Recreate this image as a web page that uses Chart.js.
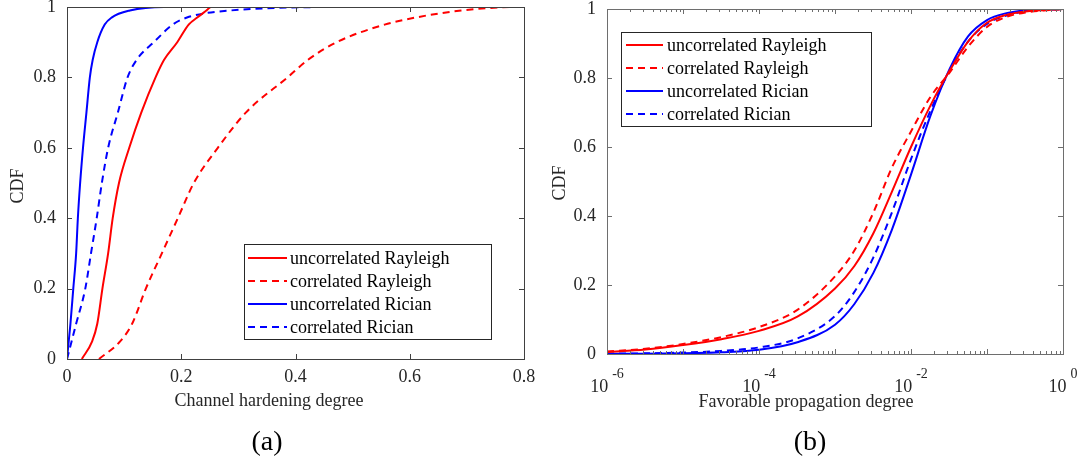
<!DOCTYPE html>
<html><head><meta charset="utf-8">
<script src="https://cdn.jsdelivr.net/npm/chart.js@4.4.1/dist/chart.umd.min.js"></script>
<style>
html,body{margin:0;padding:0;background:#fff;}
#wrap{position:relative;width:1082px;height:463px;overflow:hidden;background:#fff;}
canvas{position:absolute;top:0;}
#ca{left:0;} #cb{left:541px;}
</style></head><body>
<div id="wrap"><canvas id="ca" width="541" height="463"></canvas><canvas id="cb" width="541" height="463"></canvas></div>
<script>
// ---------- data ----------
const seriesNames = ['uncorrelated Rayleigh', 'correlated Rayleigh', 'uncorrelated Rician', 'correlated Rician'];
const yTitle = 'CDF';
const yTicks = [0, 0.2, 0.4, 0.6, 0.8, 1];

// panel (a): channel hardening degree, x value reached at each CDF level
const xTitleA = 'Channel hardening degree';
const panelLabelA = '(a)';
const xTicksA = [0, 0.2, 0.4, 0.6, 0.8];
const cdfLevelsA       = [0,     0.05,  0.1,   0.2,   0.3,   0.4,   0.5,   0.6,   0.7,   0.8,   0.85,  0.9,   0.95,  0.97,  0.99,  1,     1];
const hardUncorrRayl   = [0.026, 0.044, 0.053, 0.062, 0.072, 0.080, 0.091, 0.109, 0.130, 0.155, 0.170, 0.193, 0.213, 0.228, 0.244, 0.252, 0.8];
const hardCorrRayl     = [0.056, 0.093, 0.114, 0.138, 0.166, 0.194, 0.222, 0.264, 0.313, 0.386, 0.422, 0.472, 0.556, 0.610, 0.690, 0.790, 0.8];
const hardUncorrRician = [0.000, 0.003, 0.006, 0.011, 0.016, 0.019, 0.023, 0.028, 0.034, 0.040, 0.045, 0.053, 0.066, 0.078, 0.110, 0.170, 0.8];
const hardCorrRician   = [0.000, 0.008, 0.016, 0.032, 0.042, 0.052, 0.061, 0.072, 0.089, 0.106, 0.122, 0.152, 0.185, 0.210, 0.285, 0.500, 0.8];

// panel (b): favorable propagation degree (log x)
const xTitleB = 'Favorable propagation degree';
const panelLabelB = '(b)';
const xTickExpB = [-6, -4, -2, 0];
const favX           = [1e-6, 3.2e-6, 1e-5, 3.2e-5, 1e-4, 3.2e-4, 1e-3, 1.8e-3, 3.2e-3, 5.6e-3, 1e-2, 1.8e-2, 3.2e-2, 5.6e-2, 0.1, 0.18, 0.32, 1];
const favUncorrRayl   = [0.006, 0.013, 0.026, 0.043, 0.067, 0.108, 0.190, 0.255, 0.350, 0.470, 0.600, 0.720, 0.820, 0.905, 0.960, 0.983, 0.993, 1];
const favCorrRayl     = [0.007, 0.015, 0.029, 0.049, 0.078, 0.128, 0.225, 0.300, 0.410, 0.540, 0.645, 0.745, 0.815, 0.890, 0.948, 0.977, 0.990, 1];
const favUncorrRician = [0.001, 0.001, 0.002, 0.005, 0.012, 0.034, 0.085, 0.145, 0.235, 0.360, 0.520, 0.690, 0.825, 0.920, 0.968, 0.988, 0.996, 1];
const favCorrRician   = [0.001, 0.002, 0.004, 0.009, 0.019, 0.045, 0.110, 0.180, 0.280, 0.410, 0.565, 0.705, 0.820, 0.905, 0.957, 0.981, 0.993, 1];

// ---------- styling ----------
const FONT = '"Liberation Serif", "Times New Roman", serif';
const RED = '#ff0000', BLUE = '#0000ff';
const DASH = [7, 5];
Chart.defaults.font.family = FONT;
Chart.defaults.font.size = 18;
Chart.defaults.color = '#262626';

function mkSets(xsArr, ysArr) {
  const styles = [[RED, []], [RED, DASH], [BLUE, []], [BLUE, DASH]];
  return ysArr.map((ys, i) => ({
    label: seriesNames[i],
    data: (Array.isArray(xsArr[0]) ? xsArr[i] : xsArr).map((x, j) => ({x: x, y: ys[j]})),
    borderColor: styles[i][0], borderDash: styles[i][1], borderWidth: 2,
    pointRadius: 0, fill: false, cubicInterpolationMode: 'monotone'
  }));
}

const fmt = v => String(Math.round(v * 10) / 10);

const framePlugin = {
  id: 'frame',
  afterDatasetsDraw(chart, args, o) {
    const ctx = chart.ctx, a = chart.chartArea, xs = chart.scales.x, ys = chart.scales.y;
    ctx.save();
    ctx.strokeStyle = o.axisColor; ctx.lineWidth = 1;
    ctx.beginPath();
    ys.ticks.forEach(t => {
      const y = Math.round(ys.getPixelForValue(t.value)) + 0.5;
      ctx.moveTo(a.left, y); ctx.lineTo(a.left + o.tickLen, y);
      ctx.moveTo(a.right, y); ctx.lineTo(a.right - o.tickLen, y);
    });
    let xt = [];
    if (o.logMinor) {
      for (let d = -6; d < 0; d++) for (let m = 1; m <= 9; m++) xt.push({v: m * Math.pow(10, d), major: m === 1});
      xt.push({v: 1, major: true});
    } else {
      xt = xs.ticks.map(t => ({v: t.value, major: true}));
    }
    xt.forEach(t => {
      const x = Math.round(xs.getPixelForValue(t.v)) + 0.5;
      const L = t.major ? o.tickLen : o.minorLen;
      ctx.moveTo(x, a.bottom); ctx.lineTo(x, a.bottom - L);
      ctx.moveTo(x, a.top); ctx.lineTo(x, a.top + L);
    });
    ctx.stroke();
    ctx.strokeRect(Math.round(a.left) + 0.5, Math.round(a.top) + 0.5, Math.round(a.width), Math.round(a.height));
    ctx.restore();
  },
  afterDraw(chart, args, o) {
    const ctx = chart.ctx, xs = chart.scales.x;
    ctx.save();
    // custom log tick labels
    if (o.logMinor) {
      xTickExpB.forEach(e => {
        const x = xs.getPixelForValue(Math.pow(10, e));
        ctx.font = '18px ' + FONT;
        const w1 = ctx.measureText('10').width;
        ctx.font = '14px ' + FONT;
        const es = e === 0 ? '0' : '-' + Math.abs(e);
        const w2 = ctx.measureText(es).width;
        const gap = 4;
        const x0 = x - (w1 + gap + w2) / 2;
        ctx.fillStyle = '#262626'; ctx.textAlign = 'left'; ctx.textBaseline = 'alphabetic';
        ctx.font = '18px ' + FONT; ctx.fillText('10', x0, o.xLabelBase);
        ctx.font = '14px ' + FONT; ctx.fillText(es, x0 + w1 + gap, o.xLabelBase - 14);
      });
    }
    // titles
    ctx.fillStyle = '#262626';
    ctx.font = '18px ' + FONT;
    ctx.textAlign = 'center'; ctx.textBaseline = 'alphabetic';
    ctx.fillText(o.xTitle, o.xTitleX, o.xTitleY);
    ctx.save();
    ctx.translate(o.yTitleX, o.yTitleY); ctx.rotate(-Math.PI / 2);
    ctx.textBaseline = 'middle';
    ctx.fillText(yTitle, 0, 0);
    ctx.restore();
    ctx.fillStyle = '#000';
    ctx.font = '28px ' + FONT;
    ctx.fillText(o.panelLabel, o.panelX, o.panelY);
    // legend
    const L = o.legend;
    ctx.fillStyle = '#fff';
    ctx.fillRect(L.x, L.y, L.w, L.h);
    ctx.strokeStyle = '#262626'; ctx.lineWidth = 1;
    ctx.strokeRect(L.x + 0.5, L.y + 0.5, L.w, L.h);
    chart.data.datasets.forEach((ds, i) => {
      const y = L.row0 + i * L.rowH;
      ctx.strokeStyle = ds.borderColor; ctx.lineWidth = 2; ctx.setLineDash(ds.borderDash);
      ctx.beginPath(); ctx.moveTo(L.lx1, y); ctx.lineTo(L.lx2, y); ctx.stroke();
      ctx.setLineDash([]);
      ctx.fillStyle = '#000'; ctx.font = '18px ' + FONT;
      ctx.textAlign = 'left'; ctx.textBaseline = 'middle';
      ctx.fillText(ds.label, L.tx, y + 1);
    });
    ctx.restore();
  }
};

function yScale(width) {
  return {
    type: 'linear', min: 0, max: 1,
    grid: {display: false, drawTicks: false}, border: {display: false},
    ticks: {padding: 11, color: '#262626', font: {size: 18}, callback: v => fmt(v)},
    afterBuildTicks: s => { s.ticks = yTicks.map(v => ({value: v})); },
    afterFit: s => { s.width = width; s.paddingTop = 0; s.paddingBottom = 0; }
  };
}

// ---------- chart (a) ----------
new Chart(document.getElementById('ca'), {
  type: 'line',
  data: {datasets: mkSets([hardUncorrRayl, hardCorrRayl, hardUncorrRician, hardCorrRician],
                          [cdfLevelsA, cdfLevelsA, cdfLevelsA, cdfLevelsA])},
  options: {
    responsive: false, animation: false, devicePixelRatio: 1,
    layout: {padding: {left: 0, right: 17, top: 7, bottom: 0}},
    plugins: {
      legend: {display: false}, tooltip: {enabled: false},
      frame: {
        axisColor: '#404040', tickLen: 5, minorLen: 3, logMinor: false,
        xTitle: xTitleA, xTitleX: 269, xTitleY: 406, yTitleX: 18, yTitleY: 186,
        panelLabel: panelLabelA, panelX: 267, panelY: 450,
        legend: {x: 244, y: 244, w: 247, h: 95, row0: 258, rowH: 23, lx1: 248, lx2: 287, tx: 290}
      }
    },
    scales: {
      x: {
        type: 'linear', min: 0, max: 0.8,
        grid: {display: false, drawTicks: false}, border: {display: false},
        ticks: {padding: 7, color: '#262626', font: {size: 18}, maxRotation: 0, callback: v => fmt(v)},
        afterBuildTicks: s => { s.ticks = xTicksA.map(v => ({value: v})); },
        afterFit: s => { s.height = 104; s.paddingLeft = 0; s.paddingRight = 0; }
      },
      y: yScale(67)
    }
  },
  plugins: [framePlugin]
});

// ---------- chart (b) ----------
new Chart(document.getElementById('cb'), {
  type: 'line',
  data: {datasets: mkSets(favX, [favUncorrRayl, favCorrRayl, favUncorrRician, favCorrRician])},
  options: {
    responsive: false, animation: false, devicePixelRatio: 1,
    layout: {padding: {left: 0, right: 19, top: 9, bottom: 0}},
    plugins: {
      legend: {display: false}, tooltip: {enabled: false},
      frame: {
        axisColor: '#6e6e6e', tickLen: 5, minorLen: 3, logMinor: true, xLabelBase: 392,
        xTitle: xTitleB, xTitleX: 265, xTitleY: 407, yTitleX: 19, yTitleY: 183,
        panelLabel: panelLabelB, panelX: 269, panelY: 450,
        legend: {x: 80, y: 32, w: 250, h: 94, row0: 45, rowH: 23, lx1: 85, lx2: 122, tx: 126}
      }
    },
    scales: {
      x: {
        type: 'logarithmic', min: 1e-6, max: 1,
        grid: {display: false, drawTicks: false}, border: {display: false},
        ticks: {display: false},
        afterFit: s => { s.height = 109; s.paddingLeft = 0; s.paddingRight = 0; }
      },
      y: yScale(66)
    }
  },
  plugins: [framePlugin]
});
</script>
</body></html>
